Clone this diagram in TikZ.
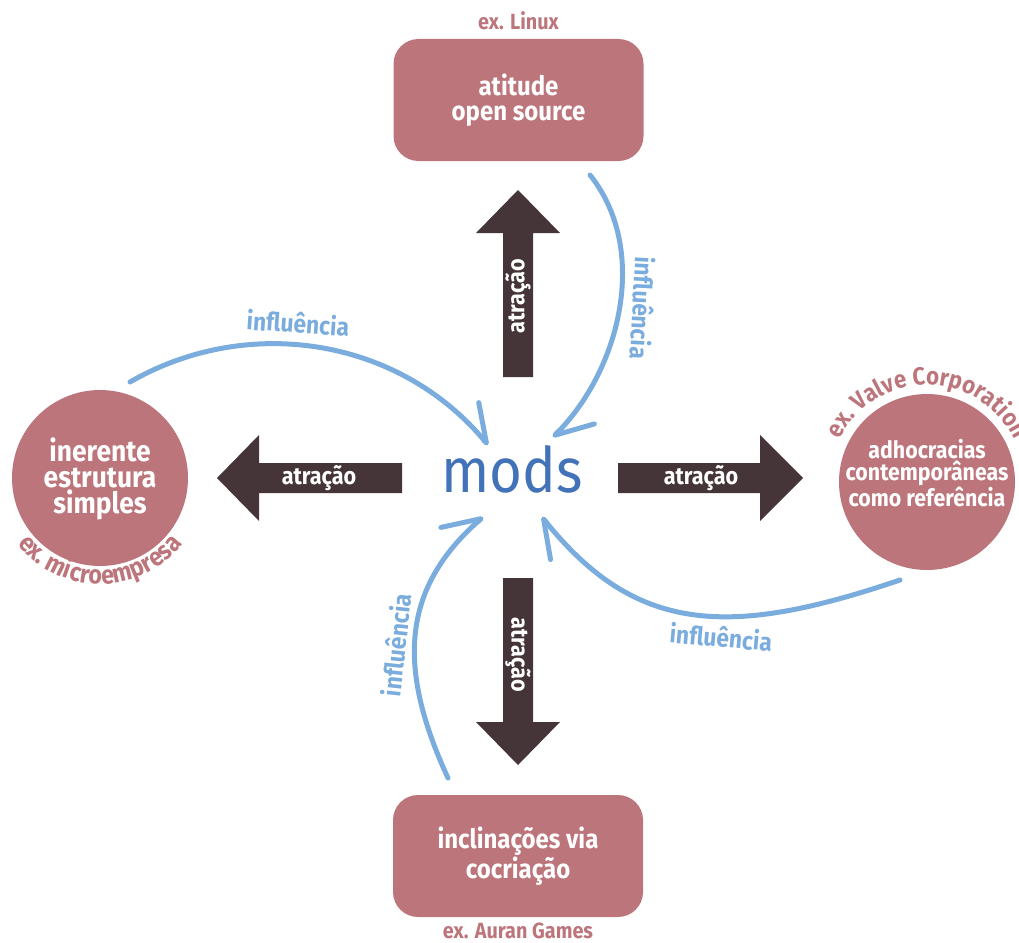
\documentclass[tikz,border=0pt]{standalone}
\usepackage{fontspec}
\setmainfont{Fira Sans}[FakeStretch=0.9]
\newfontfamily\modsfont{Fira Sans}[FakeStretch=0.9]
\usetikzlibrary{arrows.meta,decorations.text,calc}
\definecolor{rose}{HTML}{BD757C}
\definecolor{darkarr}{HTML}{453538}
\definecolor{modsblue}{HTML}{4272B7}
\definecolor{lblue}{HTML}{7AADDD}
\begin{document}
\begin{tikzpicture}[x=0.75pt,y=-0.75pt,
  box/.style={fill=rose, rounded corners=18.75pt, minimum width=187.5pt, minimum height=91.5pt,
    text=white, align=center, inner sep=0pt, font=\bfseries\fontsize{20}{19}\selectfont},
  circ/.style={circle, fill=rose, minimum size=132pt, inner sep=0pt},
  circtext/.style={text=white, align=center, inner sep=0pt},
  exlabel/.style={text=rose, font=\bfseries\fontsize{16.5}{18}\selectfont, inner sep=0pt},
  arr/.style={fill=darkarr},
  arrlabel/.style={text=white, font=\bfseries\fontsize{18}{20}\selectfont, inner sep=0pt},
  infl/.style={draw=lblue, line width=3.75pt, line cap=round,
    -{Straight Barb[left,length=27pt,width=30pt,round]}},
  infllabel/.style={text=lblue, font=\bfseries\fontsize{19}{20}\selectfont, inner sep=0pt},
  arctext/.style={decorate, decoration={text along path, text align=center, text color=rose}}
]
\useasboundingbox (0,0) rectangle (1019,942);

% boxes
\node[box] (top) at (518.5,100) {atitude\\open source};
\node[exlabel, anchor=base] (toplab) at (518.5,30) {ex. Linux};
\node[box] (bot) at (518,856) {inclinações via\\cocriação};
\node[exlabel, anchor=base] (botlab) at (518,938) {ex. Auran Games};

% circles
\node[circ] (left) at (100,478) {};
\node[circtext, font=\bfseries\fontsize{22}{19.5}\selectfont] (lefttext) at (100,479) {inerente\\estrutura\\simples};
\node[circ] (right) at (927,482) {};
\node[circtext, font=\bfseries\fontsize{17.8}{17}\selectfont] (righttext) at (927,473) {adhocracias\\contemporâneas\\como referência};

% curved labels
\begin{scope}[shift={(right)}, x=0.75pt, y=0.75pt]
\path[arctext, decoration={text={|\bfseries\fontsize{18.5}{20}\selectfont|ex. Valve Corporation}}]
  (180:97) arc[start angle=180, end angle=0, radius=97];
\end{scope}
\begin{scope}[shift={(left)}, x=0.75pt, y=0.75pt]
\path[arctext, decoration={text={|\bfseries\fontsize{19.5}{20}\selectfont|ex. microempresa}}]
  (180:106) arc[start angle=180, end angle=360, radius=106];
\end{scope}

% mods
\node[font=\modsfont\fontsize{47}{50}\selectfont, text=modsblue, inner sep=0pt, anchor=base] (mods) at (512,492) {mods};

% attraction arrows
\fill[arr] (503,377) -- (503,233) -- (476,233) -- (518,190) -- (560,233) -- (533,233) -- (533,377) -- cycle;
\node[arrlabel, rotate=90] (upl) at (518,296) {atração};
\fill[arr] (402,463) -- (259,463) -- (259,435) -- (217,478) -- (259,521) -- (259,493) -- (402,493) -- cycle;
\node[arrlabel] (leftl) at (319,478) {atração};
\fill[arr] (618,463) -- (760,463) -- (760,435) -- (803,478) -- (760,521) -- (760,493) -- (618,493) -- cycle;
\node[arrlabel] (rightl) at (701,478) {atração};
\fill[arr] (503,578) -- (503,722) -- (476,722) -- (518,765) -- (560,722) -- (533,722) -- (533,578) -- cycle;
\node[arrlabel, rotate=-90] (downl) at (518,655) {atração};

% influence curves
\coordinate (tlS) at (130,382); \coordinate (tlE) at (488,445);
\coordinate (trS) at (590,175); \coordinate (trE) at (553,437);
\coordinate (brS) at (900,580); \coordinate (brE) at (542,517);
\coordinate (blS) at (448,778); \coordinate (blE) at (483,517);
\draw[infl] (tlS) .. controls (248,314) and (399,338) .. (tlE);
\draw[infl] (trS) .. controls (650,250) and (620,370) .. (trE);
\draw[infl] (brS) .. controls (729,638) and (636,634) .. (brE);
\draw[infl] (blS) .. controls (397.6,669) and (400.5,589.6) .. (blE);

\node[infllabel, rotate=-4] (tll) at (298,323) {influência};
\node[infllabel, rotate=-93] (trl) at (643,308) {influência};
\node[infllabel, rotate=-5] (brl) at (721,637) {influência};
\node[infllabel, rotate=84] (bll) at (396,645) {influência};
\end{tikzpicture}
\end{document}
